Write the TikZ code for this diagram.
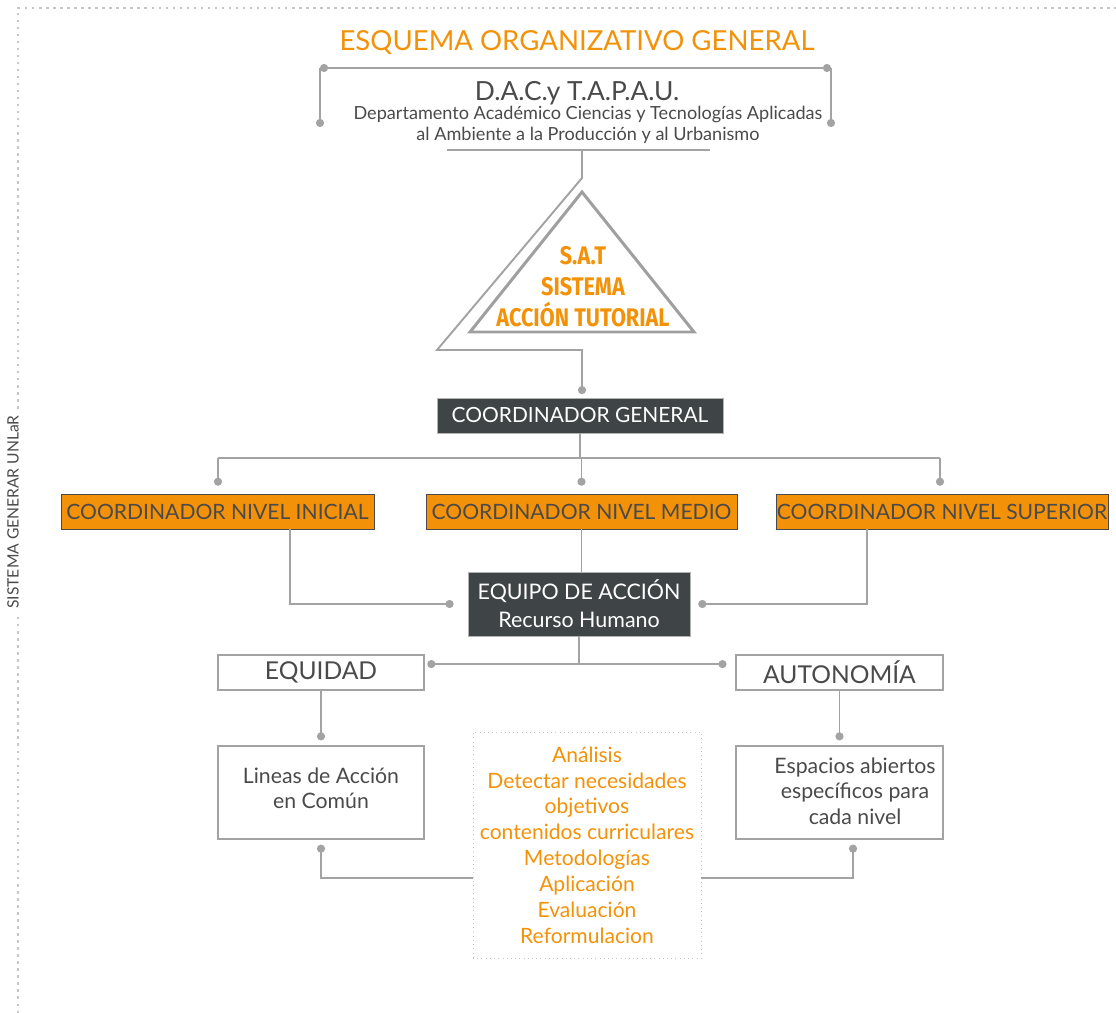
\documentclass[tikz,border=0pt]{standalone}
\usepackage{fontspec}
\setmainfont{Lato}
\newfontfamily\condfont[FakeStretch=0.85]{Fira Sans}
\usetikzlibrary{arrows.meta, positioning}
\definecolor{satorange}{HTML}{F39208}
\definecolor{boxdark}{HTML}{3F4446}
\definecolor{linegray}{HTML}{A3A3A3}
\definecolor{textgray}{HTML}{4A4A4A}

\begin{document}
\begin{tikzpicture}[
  x=0.02cm, y=-0.02cm,
  link/.style={draw=linegray, line width=1.1pt},
  dotlink/.style={link, -{Circle[length=4.6pt]}},
  darkbox/.style={draw=gray!60, fill=boxdark, text=white, inner sep=0pt, minimum height=0.7cm, font=\fontsize{11.9}{15.9}\selectfont, align=center},
  levelbox/.style={draw=textgray, fill=satorange, text=textgray, inner sep=0pt, minimum height=0.7cm, font=\fontsize{12}{14}\selectfont},
  valuebox/.style={draw=linegray, line width=0.8pt, fill=white, text=textgray, inner sep=0pt, minimum height=0.7cm, font=\fontsize{14}{16}\selectfont},
  linebox/.style={draw=linegray, line width=0.8pt, fill=white, inner sep=0pt, minimum height=1.86cm},
  bodytext/.style={text=textgray, align=center, font=\fontsize{12.1}{14.5}\selectfont},
  taskbox/.style={draw=gray!45, dotted, text=satorange, align=center, inner sep=0pt, minimum width=4.56cm, minimum height=4.52cm, font=\fontsize{12}{14.7}\selectfont},
  border/.style={draw=gray!45, line width=0.8pt, dash pattern=on 1.4pt off 2.6pt}
]
\useasboundingbox (0,0) rectangle (1116,1013);

% Page frame and side label
\draw[border] (18,1013) -- (18,8) -- (1116,8);
\node[rotate=90, fill=white, inner sep=3pt, text=textgray, font=\fontsize{8.9}{10}\selectfont] (unlar) at (13,512) {SISTEMA GENERAR UNLaR};

% Header
\node[text=satorange, font=\fontsize{15.7}{18}\selectfont] (title) at (577,43) {ESQUEMA ORGANIZATIVO GENERAL};
\node[text=textgray, font=\fontsize{15}{18}\selectfont] (dac) at (577,93) {D.A.C.y T.A.P.A.U.};
\node[text=textgray, align=center, font=\fontsize{10.3}{11.9}\selectfont] (dept) at (588,125) {Departamento Académico Ciencias y Tecnologías Aplicadas\\al Ambiente a la Producción y al Urbanismo};

\coordinate (brTL) at (320,68);
\coordinate (brTR) at (831,68);
\coordinate (brBL) at (320,127);
\coordinate (brBR) at (831,127);
\draw[link, {Circle[length=4.6pt]}-{Circle[length=4.6pt]}] (brTL) -- (brTR);
\draw[dotlink] (brTL) -- (brBL);
\draw[dotlink] (brTR) -- (brBR);

% S.A.T triangle
\draw[draw=gray!75, line width=1.7pt, line join=miter] (582,192) -- (694,332) -- (470,332) -- cycle;
\node[text=satorange, align=center, font=\condfont\bfseries\fontsize{14.5}{17.6}\selectfont] (sat) at (583,287) {S.A.T\\SISTEMA\\ACCIÓN TUTORIAL};

% Coordination
\node[darkbox, minimum width=5.72cm] (cgen) at (580,415.5) {COORDINADOR GENERAL};
\node[levelbox, minimum width=6.26cm] (inicial) at (217.5,511.5) {COORDINADOR NIVEL INICIAL};
\node[levelbox, minimum width=6.22cm] (medio) at (581.5,511.5) {COORDINADOR NIVEL MEDIO};
\node[levelbox, minimum width=6.64cm] (superior) at (942,511.5) {COORDINADOR NIVEL SUPERIOR};
\node[darkbox, minimum width=4.44cm, minimum height=1.28cm, font=\fontsize{12.2}{15.9}\selectfont] (equipo) at (579,604) {EQUIPO DE ACCIÓN\\Recurso Humano};

% Values and lines of work
\node[valuebox, minimum width=4.12cm] (equidad) at (321,672.5) {EQUIDAD};
\node[valuebox, minimum width=4.14cm] (autonomia) at (839.5,672.5) {AUTONOMÍA};
\node[linebox, minimum width=4.12cm] (lineas) at (321,792.5) {};
\node[bodytext] (lineastxt) at (321,788) {Lineas de Acción\\en Común};
\node[linebox, minimum width=4.14cm] (espacios) at (839.5,792.5) {};
\node[bodytext] (espaciostxt) at (855,791) {Espacios abiertos\\específicos para\\cada nivel};
\node[taskbox] (tareas) at (587,845) {Análisis\\Detectar necesidades\\objetivos\\contenidos curriculares\\Metodologías\\Aplicación\\Evaluación\\Reformulacion};

% Connectors
\coordinate (ruleL) at (447,150);
\coordinate (ruleR) at (710,150);
\coordinate (stem) at (582,150);
\coordinate (bendA) at (582,178);
\coordinate (bendB) at (437,350);
\coordinate (bendC) at (582,350);
\draw[link] (ruleL) -- (ruleR);
\draw[dotlink, shorten >=2pt] (stem) -- (bendA) -- (bendB) -- (bendC) -- (bendC |- cgen.north);

\coordinate (busL) at (218,458);
\coordinate (busR) at (940,458);
\draw[link] (busL) -- (busR);
\draw[link] (cgen) -- (cgen |- busL);
\draw[dotlink, shorten >=4.5pt] (busL) -- (busL |- inicial.north);
\draw[dotlink, shorten >=4.5pt] (medio |- busL) -- (medio.north);
\draw[dotlink, shorten >=4.5pt] (busR) -- (busR |- superior.north);

\draw[dotlink, shorten >=8pt] ([xshift=41pt]inicial.south) |- (equipo.west);
\draw[link] (medio.south) -- (medio.south |- equipo.north);
\draw[dotlink, shorten >=4.5pt] ([xshift=-42.5pt]superior.south) |- (equipo.east);

\draw[dotlink, shorten >=1.5pt] (equipo.south) |- ([yshift=4.8pt]equidad.east);
\draw[dotlink, shorten >=5pt] (equipo.south) |- ([yshift=4.8pt]autonomia.west);

\draw[dotlink, shorten >=2.8pt] (equidad) -- (lineas);
\draw[dotlink, shorten >=2.8pt] (autonomia) -- (espacios);

\draw[dotlink, shorten >=2.8pt] ([yshift=-18.7pt]tareas.west) -| (lineas.south);
\draw[dotlink, shorten >=2.8pt] ([yshift=-18.7pt]tareas.east) -| ([xshift=7.7pt]espacios.south);

\end{tikzpicture}
\end{document}
